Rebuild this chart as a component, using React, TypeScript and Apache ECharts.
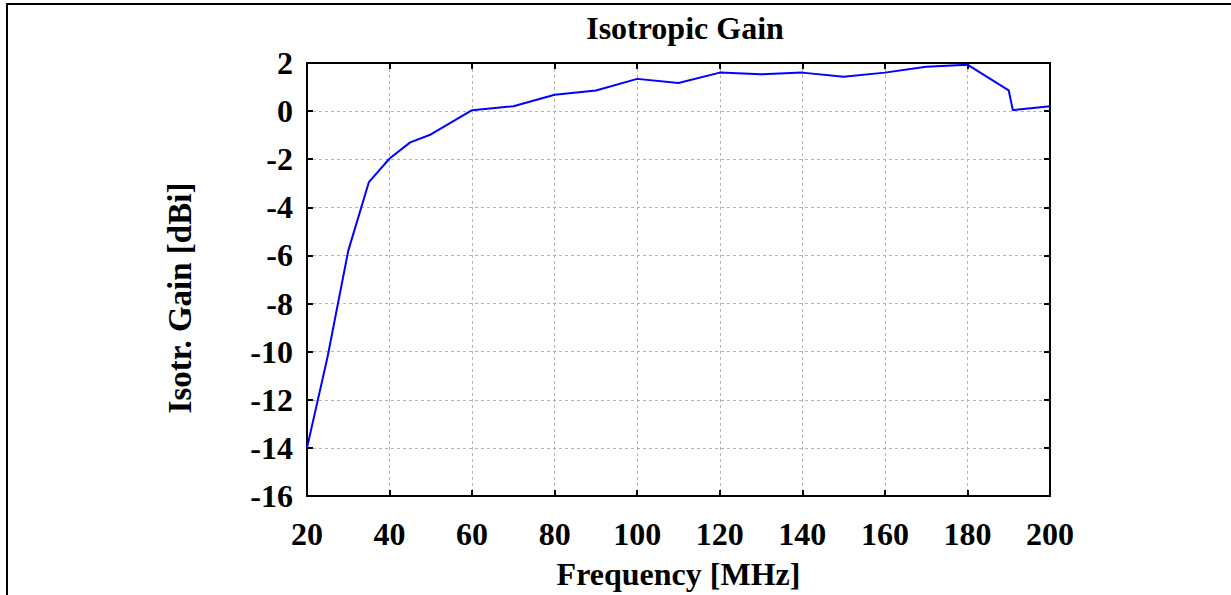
import React, { useEffect, useRef } from "react";
import * as echarts from "echarts";

const frequencies = [20, 25, 30, 35, 40, 45, 50, 60, 70, 80, 90, 100, 110, 120, 130, 140, 150, 160, 170, 180, 190, 191, 200];
const gains = [-14.0, -10.2, -5.8, -2.95, -1.97, -1.3, -0.97, 0.04, 0.2, 0.68, 0.86, 1.34, 1.17, 1.6, 1.53, 1.6, 1.43, 1.6, 1.84, 1.93, 0.86, 0.04, 0.2];

const titleText = "Isotropic Gain";
const xName = "Frequency [MHz]";
const yName = "Isotr. Gain [dBi]";

const FONT = "'Liberation Serif', 'Times New Roman', serif";

export default function App() {
  const ref = useRef<HTMLDivElement>(null);
  useEffect(() => {
    if (!ref.current) return;
    const chart = echarts.init(ref.current, null, { renderer: "svg" });
    const data = frequencies.map((f, i) => [f, gains[i]]);
    const gridLine = { show: true, lineStyle: { color: "#b4b4b4", type: [3, 3] as any, width: 1 } };
    chart.setOption({
      animation: false,
      backgroundColor: "#ffffff",
      title: {
        text: titleText,
        left: 680,
        top: 7,
        textAlign: "center",
        textStyle: { fontFamily: FONT, fontWeight: "bold", fontSize: 32, color: "#000" },
      },
      grid: { left: 307, right: 181, top: 63, bottom: 97, containLabel: false },
      xAxis: [
        {
          type: "value",
          min: 20,
          max: 200,
          interval: 20,
          name: xName,
          nameLocation: "middle",
          nameGap: 62,
          nameTextStyle: { fontFamily: FONT, fontWeight: "bold", fontSize: 32, color: "#000" },
          axisLine: { show: true, onZero: false, lineStyle: { color: "#000", width: 2 } },
          axisTick: { show: true, inside: true, length: 6, lineStyle: { color: "#000", width: 2 } },
          axisLabel: { fontFamily: FONT, fontWeight: "bold", fontSize: 32, color: "#000", margin: 22 },
          splitLine: gridLine,
        },
        {
          type: "value",
          position: "top",
          min: 20,
          max: 200,
          interval: 20,
          axisLine: { show: true, onZero: false, lineStyle: { color: "#000", width: 2 } },
          axisTick: { show: true, inside: true, length: 6, lineStyle: { color: "#000", width: 2 } },
          axisLabel: { show: false },
          splitLine: { show: false },
        },
      ],
      yAxis: [
        {
          type: "value",
          min: -16,
          max: 2,
          interval: 2,
          axisLine: { show: true, onZero: false, lineStyle: { color: "#000", width: 2 } },
          axisTick: { show: true, inside: true, length: 6, lineStyle: { color: "#000", width: 2 } },
          axisLabel: { fontFamily: FONT, fontWeight: "bold", fontSize: 32, color: "#000", margin: 14 },
          splitLine: gridLine,
        },
        {
          type: "value",
          position: "right",
          min: -16,
          max: 2,
          interval: 2,
          axisLine: { show: true, onZero: false, lineStyle: { color: "#000", width: 2 } },
          axisTick: { show: true, inside: true, length: 6, lineStyle: { color: "#000", width: 2 } },
          axisLabel: { show: false },
          splitLine: { show: false },
        },
      ],
      series: [
        {
          type: "line",
          data,
          xAxisIndex: 0,
          yAxisIndex: 0,
          showSymbol: false,
          symbol: "none",
          lineStyle: { color: "#0000ff", width: 2 },
        },
      ],
      graphic: [
        { type: "line", shape: { x1: 7, y1: 4, x2: 1231, y2: 4 }, style: { stroke: "#000", lineWidth: 2 } },
        { type: "line", shape: { x1: 7, y1: 3, x2: 7, y2: 595 }, style: { stroke: "#000", lineWidth: 2 } },
        {
          type: "text",
          x: 180,
          y: 298,
          rotation: Math.PI / 2,
          style: {
            text: yName,
            fontFamily: FONT,
            fontWeight: "bold",
            fontSize: 33,
            fill: "#000",
            textAlign: "center",
            textVerticalAlign: "middle",
          },
        },
      ],
    });
    return () => chart.dispose();
  }, []);
  return (
    <div
      ref={ref}
      style={{ position: "absolute", left: 0, top: 0, width: 1231, height: 595, background: "#fff" }}
    />
  );
}
